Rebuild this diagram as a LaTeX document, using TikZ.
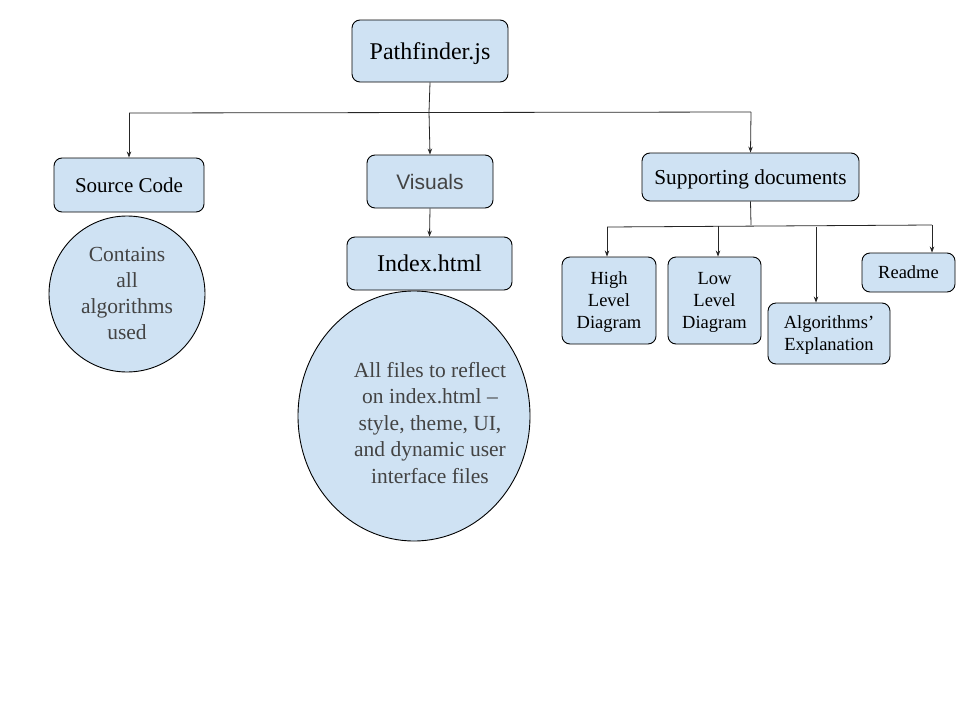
\documentclass[tikz,border=0pt]{standalone}
\usepackage{fontspec}
\setmainfont{Liberation Serif}
\newfontfamily\arialfont{Liberation Sans}
\usetikzlibrary{arrows.meta}
\definecolor{boxfill}{HTML}{CFE2F3}
\definecolor{txtgray}{HTML}{434343}
\begin{document}
\begin{tikzpicture}[x=1pt,y=-1pt,
  box/.style={draw=black, fill=boxfill, rounded corners=8pt, line width=0.9pt, inner sep=0pt, align=center, text depth=0pt},
  link/.style={draw=black!85, line width=0.8pt},
  arr/.style={link, -{Stealth[length=6pt,width=4.5pt]}}]
\useasboundingbox (0,0) rectangle (960,720);
% top
\node[box, minimum width=156pt, minimum height=62pt, font=\fontsize{24}{28}\selectfont] (pf) at (430,51) {Pathfinder.js};
\node[box, minimum width=150pt, minimum height=54pt, font=\fontsize{21}{24}\selectfont] (src) at (129,185) {Source Code};
\node[box, minimum width=126pt, minimum height=53pt, font=\arialfont\fontsize{21}{24}\selectfont, text=txtgray] (vis) at (430,181.5) {Visuals};
\node[box, minimum width=217pt, minimum height=48pt, font=\fontsize{21.3}{24}\selectfont] (sup) at (750.5,177) {Supporting documents};
\node[box, minimum width=165pt, minimum height=53pt, font=\fontsize{24}{28}\selectfont] (idx) at (429.5,263.5) {Index.html};
% circles
\draw[line width=0.9pt, fill=boxfill] (127,294) ellipse [x radius=78pt, y radius=78pt];
\node[align=center, text=txtgray, font=\fontsize{21.5}{26}\selectfont] (srcc) at (127,293) {Contains\\all\\algorithms\\used};
\draw[line width=0.9pt, fill=boxfill] (414,416) ellipse [x radius=116pt, y radius=125pt];
\node[align=center, text=txtgray, font=\fontsize{21.5}{26.5}\selectfont] (idxc) at (430,423) {All files to reflect\\on index.html --\\style, theme, UI,\\and dynamic user\\interface files};
% supporting children
\node[box, minimum width=94pt, minimum height=87pt, font=\fontsize{18.5}{22}\selectfont] (hld) at (609,300.5) {High\\Level\\Diagram};
\node[box, minimum width=93pt, minimum height=87pt, font=\fontsize{18.5}{22}\selectfont] (lld) at (714.5,300.5) {Low\\Level\\Diagram};
\node[box, minimum width=122pt, minimum height=61pt, font=\fontsize{18.5}{22}\selectfont] (alg) at (829,333.5) {Algorithms'\\Explanation};
\node[box, minimum width=93pt, minimum height=39pt, font=\fontsize{18.5}{22}\selectfont] (rdm) at (908.5,272.5) {Readme};
% connectors top level
\coordinate (t0) at (429,112);
\coordinate (tl) at (129,113);
\coordinate (tr) at (751,112);
\draw[link] (pf.south) -- (t0);
\draw[link] (tl) -- (tr);
\draw[arr] (tl) -- (src.north);
\draw[arr] (t0) -- (vis.north);
\draw[arr] (tr) -- (sup.north);
\draw[arr] (vis.south) -- (idx.north);
% connectors supporting
\coordinate (s0) at (751,225);
\coordinate (sl) at (607,227);
\coordinate (sr) at (932,225);
\coordinate (sa) at (816,227);
\coordinate (sb) at (718,226);
\draw[link] (sup.south) -- (s0);
\draw[link] (sl) -- (sr);
\draw[arr] (sl) -- (sl |- hld.north);
\draw[arr] (sb) -- (sb |- lld.north);
\draw[arr] (sa) -- (sa |- alg.north);
\draw[arr] (sr) -- (sr |- rdm.north);
\end{tikzpicture}
\end{document}
